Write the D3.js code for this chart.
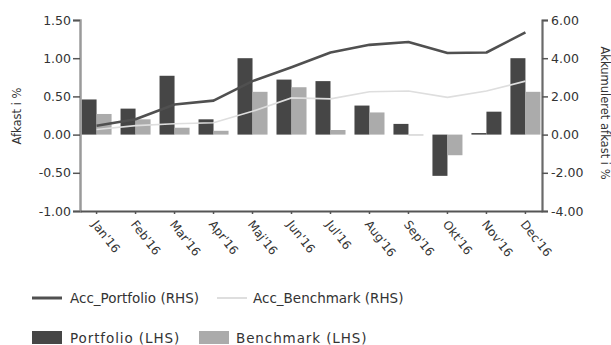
<!DOCTYPE html>
<html>
<head>
<meta charset="utf-8">
<script src="https://cdn.jsdelivr.net/npm/d3@7"></script>
<style>
  html, body { margin: 0; padding: 0; background: #fff; }
  svg { display: block; font-family: "DejaVu Sans", Verdana, sans-serif; }
</style>
</head>
<body>
<svg id="chart" width="611" height="345"></svg>
<script>
// Monthly and accumulated returns, 2016
const months = ["Jan'16", "Feb'16", "Mar'16", "Apr'16", "Maj'16", "Jun'16",
                "Jul'16", "Aug'16", "Sep'16", "Okt'16", "Nov'16", "Dec'16"];
const portfolio = [0.46, 0.34, 0.77, 0.20, 1.00, 0.72, 0.70, 0.38, 0.14, -0.54, 0.02, 1.00];
const benchmark = [0.27, 0.20, 0.09, 0.05, 0.56, 0.62, 0.06, 0.29, -0.01, -0.27, 0.30, 0.56];
const accPortfolio = [0.46, 0.80, 1.58, 1.78, 2.80, 3.53, 4.30, 4.70, 4.85, 4.27, 4.30, 5.35];
const accBenchmark = [0.27, 0.47, 0.57, 0.62, 1.22, 1.92, 1.87, 2.24, 2.28, 1.95, 2.28, 2.80];

const leftTicks = [-1, -0.5, 0, 0.5, 1, 1.5];
const leftTickLabels = ["-1.00", "-0.50", "0.00", "0.50", "1.00", "1.50"];
const rightTicks = [-4, -2, 0, 2, 4, 6];
const rightTickLabels = ["-4.00", "-2.00", "0.00", "2.00", "4.00", "6.00"];

// months whose benchmark bar is printed in the dark shade
const darkBenchmarkMonths = ["Nov'16"];

const C = {
  port: "#464646",
  bench: "#ababab",
  accPort: "#505050",
  accBench: "#dedede",
  text: "#333"
};

const svg = d3.select("#chart");
const plotLeft = 80, plotRight = 542, plotTop = 20, plotBottom = 211;

const x = d3.scaleBand().domain(months).range([plotLeft, plotRight])
  .paddingInner(0.23).paddingOuter(0.04);
const xSub = d3.scaleBand().domain(["p", "b"]).range([0, x.bandwidth()]);
const yL = d3.scaleLinear().domain([-1, 1.5]).range([plotBottom, plotTop]);
const yR = d3.scaleLinear().domain([-4, 6]).range([plotBottom, plotTop]);

// Bars (left axis)
const rows = months.map((m, i) => ({ m, p: portfolio[i], b: benchmark[i] }));
const g = svg.append("g");
rows.forEach(r => {
  [["p", r.p, C.port], ["b", r.b, darkBenchmarkMonths.includes(r.m) ? C.port : C.bench]]
    .forEach(([k, v, col]) => {
      g.append("rect")
        .attr("x", x(r.m) + xSub(k))
        .attr("width", xSub.bandwidth())
        .attr("y", Math.min(yL(v), yL(0)))
        .attr("height", Math.abs(yL(v) - yL(0)))
        .attr("fill", col);
    });
});

// Accumulated lines (right axis)
const cx = m => x(m) + x.bandwidth() / 2;
const line = d3.line().x((d, i) => cx(months[i])).y(d => yR(d));
svg.append("path").datum(accBenchmark).attr("d", line)
  .attr("fill", "none").attr("stroke", C.accBench).attr("stroke-width", 1.6);
svg.append("path").datum(accPortfolio).attr("d", line)
  .attr("fill", "none").attr("stroke", C.accPort).attr("stroke-width", 2.6)
  .attr("stroke-linejoin", "round");

// Axes
const axL = svg.append("g").attr("transform", `translate(${plotLeft},0)`)
  .call(d3.axisLeft(yL).tickValues(leftTicks).tickSize(7).tickPadding(2)
    .tickFormat((d, i) => leftTickLabels[i]));
axL.select(".domain").attr("stroke", "#9a9a9a").attr("stroke-width", 2.5);
axL.selectAll(".tick line").attr("stroke", "#555").attr("stroke-width", 1.5);

const axR = svg.append("g").attr("transform", `translate(${plotRight},0)`)
  .call(d3.axisRight(yR).tickValues(rightTicks).tickSize(6).tickPadding(3)
    .tickFormat((d, i) => rightTickLabels[i]));
axR.select(".domain").attr("stroke", "#6a6a6a").attr("stroke-width", 2.2);
axR.selectAll(".tick line").attr("stroke", "#555").attr("stroke-width", 1.5);

const axB = svg.append("g").attr("transform", `translate(0,${plotBottom})`)
  .call(d3.axisBottom(x).tickSize(3).tickSizeOuter(0));
axB.select(".domain").attr("stroke", "#555").attr("stroke-width", 2);
axB.selectAll(".tick line").attr("stroke", "#555").attr("stroke-width", 1.5);
axB.selectAll(".tick text")
  .attr("text-anchor", "start")
  .attr("transform", "translate(-2,11) rotate(52)")
  .attr("x", 0).attr("y", 0).attr("dy", "0.35em");

[axL, axR].forEach(a => a.selectAll("text")
  .attr("fill", C.text).attr("font-size", 12.5)
  .attr("font-family", "DejaVu Sans, Verdana, sans-serif"));
axB.selectAll("text")
  .attr("fill", C.text).attr("font-size", 12)
  .attr("font-family", "DejaVu Sans, Verdana, sans-serif");

// Axis titles
svg.append("text").attr("transform", "translate(21,116) rotate(-90)")
  .attr("text-anchor", "middle").attr("font-size", 11.5).attr("fill", C.text)
  .text("Afkast i %");
svg.append("text").attr("transform", "translate(601,113) rotate(90)")
  .attr("text-anchor", "middle").attr("font-size", 11.5).attr("fill", C.text)
  .text("Akkumuleret afkast i %");

// Legend
const lg = svg.append("g").attr("font-size", 13.5).attr("fill", C.text);
lg.append("line").attr("x1", 32).attr("x2", 62).attr("y1", 298).attr("y2", 298)
  .attr("stroke", C.accPort).attr("stroke-width", 3);
lg.append("text").attr("x", 70).attr("y", 298).attr("dy", "0.35em").text("Acc_Portfolio (RHS)");
lg.append("line").attr("x1", 217).attr("x2", 247).attr("y1", 298).attr("y2", 298)
  .attr("stroke", C.accBench).attr("stroke-width", 2);
lg.append("text").attr("x", 253).attr("y", 298).attr("dy", "0.35em").text("Acc_Benchmark (RHS)");

lg.append("rect").attr("x", 32).attr("y", 331).attr("width", 30).attr("height", 13).attr("fill", C.port);
lg.append("text").attr("x", 70).attr("y", 338).attr("dy", "0.35em")
  .attr("letter-spacing", 0.9).text("Portfolio (LHS)");
lg.append("rect").attr("x", 199).attr("y", 331).attr("width", 30).attr("height", 13).attr("fill", C.bench);
lg.append("text").attr("x", 236).attr("y", 338).attr("dy", "0.35em")
  .attr("letter-spacing", 0.9).text("Benchmark (LHS)");
</script>
</body>
</html>
